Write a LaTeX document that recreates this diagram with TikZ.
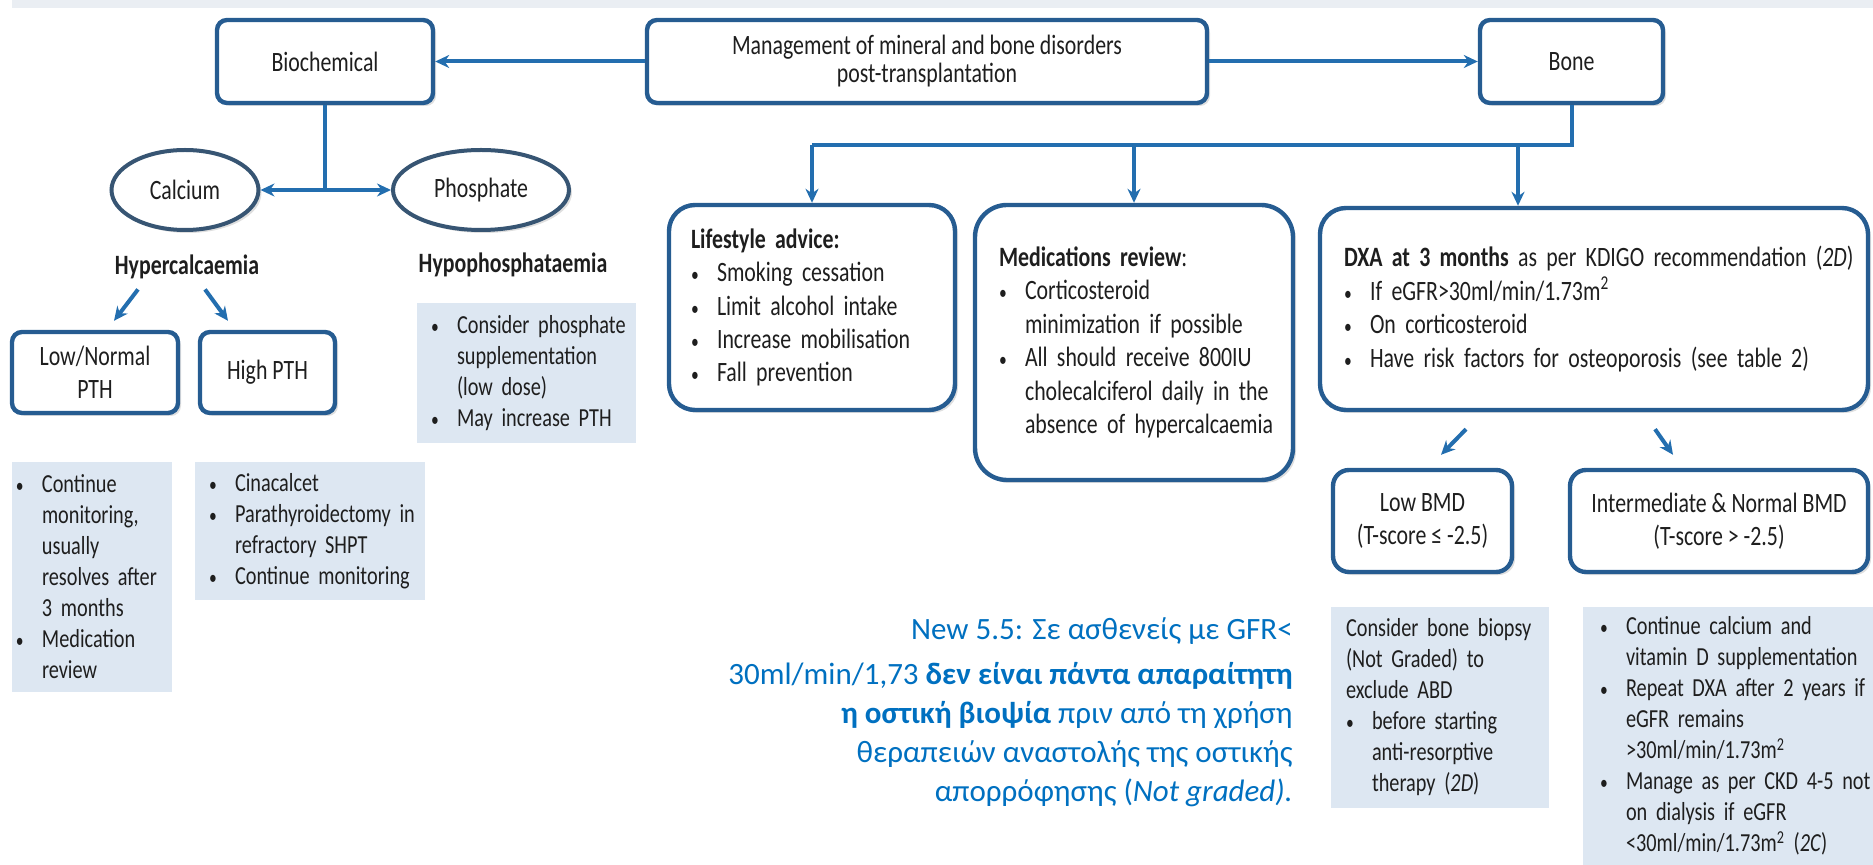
\documentclass[tikz,border=0pt]{standalone}
\usepackage{fontspec}
\setmainfont{Carlito}[FakeStretch=0.78]
\newfontfamily\notegreek{Carlito}
\usetikzlibrary{arrows.meta,positioning,shapes.geometric,shadows,calc}

\definecolor{boxline}{RGB}{38,92,145}
\definecolor{linkblue}{RGB}{35,110,175}
\definecolor{ovalline}{RGB}{55,85,115}
\definecolor{notefill}{RGB}{221,231,242}
\definecolor{greekblue}{RGB}{0,112,192}
\definecolor{topband}{RGB}{234,238,243}
\definecolor{textgray}{RGB}{30,30,30}

\newcommand\boxfont{\fontsize{14}{16.7}\selectfont}
\newcommand\notefont{\fontsize{13}{15.5}\selectfont}
\newcommand\bulmark{{\fontsize{10}{10}\selectfont\textbullet}}
\newcommand\itm[1]{\mbox{\makebox[13pt][l]{\bulmark}#1}}
\newcommand\cnt[1]{\mbox{\hspace*{13pt}#1}}

\tikzset{
  box/.style={
    draw=boxline,
    line width=2.2pt,
    rounded corners=5pt,
    fill=white,
    drop shadow={opacity=0.25, shadow xshift=1.5pt, shadow yshift=-1.5pt},
    align=center,
    font=\boxfont,
    text=textgray,
    inner sep=2pt
  },
  list box/.style={
    box,
    rounded corners=13pt,
    align=left
  },
  oval/.style={
    ellipse,
    draw=ovalline,
    line width=2pt,
    fill=white,
    drop shadow={opacity=0.25, shadow xshift=1.5pt, shadow yshift=-1.5pt},
    font=\boxfont,
    text=textgray,
    inner sep=0pt
  },
  note/.style={
    fill=notefill,
    align=left,
    font=\notefont,
    text=textgray,
    inner ysep=2pt
  },
  head/.style={
    font=\boxfont\bfseries,
    text=textgray,
    inner sep=1pt
  },
  greek/.style={
    font=\notegreek\fontsize{15.5}{19.5}\selectfont,
    text=greekblue,
    align=right,
    inner sep=0pt
  },
  link/.style={
    draw=linkblue,
    line width=2pt
  }
}

\begin{document}
\begin{tikzpicture}[x=0.5pt, y=-0.5pt, >={Stealth[length=7pt,width=6.5pt]}]
  \useasboundingbox (0,0) rectangle (1873,865);
  \fill[topband] (12,0) rectangle (1873,8);

  % top row
  \node[box, minimum width=108pt, minimum height=41.5pt] (bio) at (325,61.5) {Biochemical};
  \node[box, minimum width=280pt, minimum height=41.5pt, font=\fontsize{14}{14}\selectfont] (mgmt) at (927,61.5)
    {Management of mineral and bone disorders\\post-transplantation};
  \node[box, minimum width=91.5pt, minimum height=41.5pt] (bone) at (1571.5,61.5) {Bone};

  % biochemical branch
  \node[oval, minimum width=73.5pt, minimum height=40pt] (calcium) at (185,190) {Calcium};
  \node[oval, minimum width=88pt, minimum height=40pt] (phosphate) at (481,190) {Phosphate};
  \node[head] (hyper) at (187,267) {Hypercalcaemia};
  \node[head] (hypo) at (513,265) {Hypophosphataemia};
  \node[box, minimum width=83pt, minimum height=40.5pt] (lownorm) at (95,372.5) {Low/Normal\\PTH};
  \node[box, minimum width=67.5pt, minimum height=40.5pt] (highpth) at (267.5,372.5) {High PTH};

  \node[note, text width=95.5pt, inner xsep=7pt, minimum height=70pt] (phosnote) at (526.5,373)
    {\itm{Consider phosphate}\\\cnt{supplementation}\\\cnt{(low dose)}\\\itm{May increase PTH}};
  \node[note, text width=76pt, inner xsep=2pt, minimum height=115pt] (lownote) at (92,577)
    {\itm{Continue}\\\cnt{monitoring,}\\\cnt{usually}\\\cnt{resolves after}\\\cnt{3 months}\\\itm{Medication}\\\cnt{review}};
  \node[note, text width=101pt, inner xsep=7pt, minimum height=69pt] (highnote) at (310,531)
    {\itm{Cinacalcet}\\\itm{Parathyroidectomy in}\\\cnt{refractory SHPT}\\\itm{Continue monitoring}};

  % bone branch
  \node[list box, minimum width=143pt, minimum height=102.5pt, text width=121pt, inner xsep=11pt] (life) at (812,307.5)
    {\textbf{Lifestyle advice:}\\\itm{Smoking cessation}\\\itm{Limit alcohol intake}\\\itm{Increase mobilisation}\\\itm{Fall prevention}};
  \node[list box, rounded corners=16pt, minimum width=159pt, minimum height=137.5pt, text width=135pt, inner xsep=12pt] (meds) at (1134,342.5)
    {\textbf{Medications review}:\\\itm{Corticosteroid}\\\cnt{minimization if possible}\\\itm{All should receive 800IU}\\\cnt{cholecalciferol daily in the}\\\cnt{absence of hypercalcaemia}};
  \node[list box, minimum width=274pt, minimum height=101pt, text width=250pt, inner xsep=12pt] (dxa) at (1594,309)
    {\mbox{\textbf{DXA at 3 months} as per KDIGO recommendation (\textit{2D})}\\\itm{If eGFR>30ml/min/1.73m\textsuperscript{2}}\\\itm{On corticosteroid}\\\itm{Have risk factors for osteoporosis (see table 2)}};

  \node[box, rounded corners=8pt, minimum width=89.5pt, minimum height=51pt] (lowbmd) at (1422.5,521) {Low BMD\\(T-score ≤ -2.5)};
  \node[box, rounded corners=8pt, minimum width=149pt, minimum height=51pt] (interbmd) at (1719,521) {Intermediate \& Normal BMD\\(T-score > -2.5)};

  \node[note, text width=94pt, inner xsep=7.5pt, minimum height=100.5pt] (biopsynote) at (1440,707.5)
    {Consider bone biopsy\\(Not Graded) to\\exclude ABD\\\itm{before starting}\\\cnt{anti-resorptive}\\\cnt{therapy (\textit{2D})}};
  \node[note, text width=128pt, inner xsep=8.5pt, minimum height=129pt] (internote) at (1728,736)
    {\itm{Continue calcium and}\\\cnt{vitamin D supplementation}\\\itm{Repeat DXA after 2 years if}\\\cnt{eGFR remains}\\\cnt{>30ml/min/1.73m\textsuperscript{2}}\\\itm{Manage as per CKD 4-5 not}\\\cnt{on dialysis if eGFR}\\\cnt{<30ml/min/1.73m\textsuperscript{2} (\textit{2C})}};

  % added recommendation
  \node[greek, anchor=east] (newnote) at (1293,712)
    {New 5.5: Σε ασθενείς με GFR<\\[3pt]
     30ml/min/1,73 \textbf{δεν είναι πάντα απαραίτητη}\\
     \textbf{η οστική βιοψία} πριν από τη χρήση\\
     θεραπειών αναστολής της οστικής\\
     απορρόφησης (\textit{Not graded).}};

  % connectors
  \draw[link,->] (mgmt) -- (bio);
  \draw[link,->] (mgmt) -- (bone);
  \draw[link] (bio.south) -- (bio.south |- calcium.east) coordinate (split);
  \draw[link,->] (split) -- (calcium);
  \draw[link,->] (split) -- (phosphate);
  \draw[link,->] ($(hyper.south)+(-49,8)$) -- ($(lownorm.north)+(19,-9)$);
  \draw[link,->] ($(hyper.south)+(18,8)$) -- ($(highpth.north)+(-39.5,-9)$);

  \coordinate (bus) at (life.north |- 0,145);
  \path (dxa.north) ++(-76,0) coordinate (dxain);
  \draw[link] (bone.south) |- (bus);
  \draw[link,->] (bus) -- (life.north);
  \draw[link,->] (bus -| meds.north) -- (meds.north);
  \draw[link,->] (bus -| dxain) -- (dxain);

  \draw[link,->] ($(dxa.south)+(-128,17)$) -- ($(lowbmd.north)+(18.5,-13)$);
  \draw[link,->] ($(dxa.south)+(61,17)$) -- ($(interbmd.north)+(-46,-13)$);
\end{tikzpicture}
\end{document}
